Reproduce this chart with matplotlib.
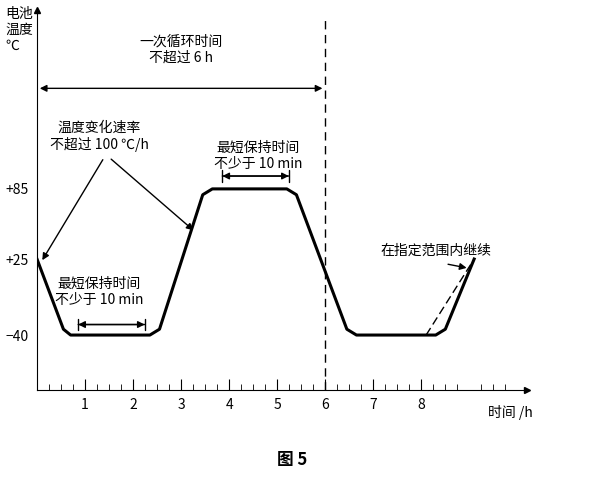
import matplotlib
matplotlib.use("Agg")
import matplotlib.pyplot as plt

plt.rcParams['font.family'] = ['Noto Sans CJK SC', 'DejaVu Sans']

t_pts = [0.0, 0.55, 0.7, 2.35, 2.55, 3.45, 3.65, 5.2, 5.4, 6.45, 6.65, 8.3, 8.5, 9.1]
temp_pts = [25, -35, -40, -40, -35, 80, 85, 85, 80, -35, -40, -40, -35, 25]
dash_t = [8.1, 9.1]
dash_temp = [-40, 25]
ytick_vals = [85, 25, -40]
ytick_labels = ['+85', '+25', '\u221240']
xtick_vals = [1, 2, 3, 4, 5, 6, 7, 8]

fig = plt.figure(figsize=(5.9, 4.94), dpi=100)
ax = fig.add_axes([37/590, 1-390/494, 490/590, 380/494])
ax.set_xlim(0, 10.2)
ax.set_ylim(-87, 238)
for s in ['top', 'right']:
    ax.spines[s].set_visible(False)
ax.plot(1, 0, '>k', transform=ax.transAxes, clip_on=False, ms=5)
ax.plot(0, 1, '^k', transform=ax.transAxes, clip_on=False, ms=5)

ax.plot(t_pts, temp_pts, color='black', lw=2.2, solid_joinstyle='round')
ax.plot(dash_t, dash_temp, color='black', lw=1, ls=(0, (6, 3)))
ax.axvline(6, ymax=0.98, color='black', lw=1, ls=(0, (6, 4)))

ax.set_xticks(xtick_vals)
ax.set_xticks([i*0.25 for i in range(1, 40) if i % 4], minor=True)
ax.tick_params(axis='x', which='major', direction='in', length=8, labelsize=10, pad=6)
ax.tick_params(axis='x', which='minor', direction='in', length=4)
ax.set_yticks(ytick_vals)
ax.set_yticklabels(ytick_labels)
ax.tick_params(axis='y', length=0, labelsize=10, pad=6)

kw = dict(ha='center', va='center', fontsize=10)
ax.annotate('', xy=(0, 171), xytext=(6, 171), arrowprops=dict(arrowstyle='<|-|>', color='black', lw=1))
ax.text(3.0, 204, '一次循环时间\n不超过 6 h', **kw)
ax.text(1.3, 130, '温度变化速率\n不超过 100 ℃/h', **kw)
ax.annotate('', xy=(0.08, 22), xytext=(1.4, 112), arrowprops=dict(arrowstyle='-|>', color='black', lw=1))
ax.annotate('', xy=(3.3, 48), xytext=(1.5, 112), arrowprops=dict(arrowstyle='-|>', color='black', lw=1))
ax.text(1.3, -3, '最短保持时间\n不少于 10 min', **kw)
ax.annotate('', xy=(0.8, -31), xytext=(2.3, -31), arrowprops=dict(arrowstyle='|-|', color='black', lw=1, mutation_scale=4))
ax.annotate('', xy=(0.8, -31), xytext=(2.3, -31), arrowprops=dict(arrowstyle='<|-|>', color='black', lw=1))
ax.text(4.6, 113, '最短保持时间\n不少于 10 min', **kw)
ax.annotate('', xy=(3.8, 96), xytext=(5.3, 96), arrowprops=dict(arrowstyle='|-|', color='black', lw=1, mutation_scale=4))
ax.annotate('', xy=(3.8, 96), xytext=(5.3, 96), arrowprops=dict(arrowstyle='<|-|>', color='black', lw=1))
ax.text(8.3, 32, '在指定范围内继续', **kw)
ax.annotate('', xy=(9.0, 17), xytext=(8.5, 21), arrowprops=dict(arrowstyle='-|>', color='black', lw=1))

fig.text(5/590, 1-30/494, '电池\n温度\n℃', fontsize=10, va='center', ha='left', linespacing=1.2)
fig.text(510/590, 1-412/494, '时间 /h', fontsize=10, ha='center', va='center')
fig.text(292/590, 1-460/494, '图 5', fontsize=12, ha='center', va='center', weight='bold')
fig.savefig('out.png', dpi=100)
